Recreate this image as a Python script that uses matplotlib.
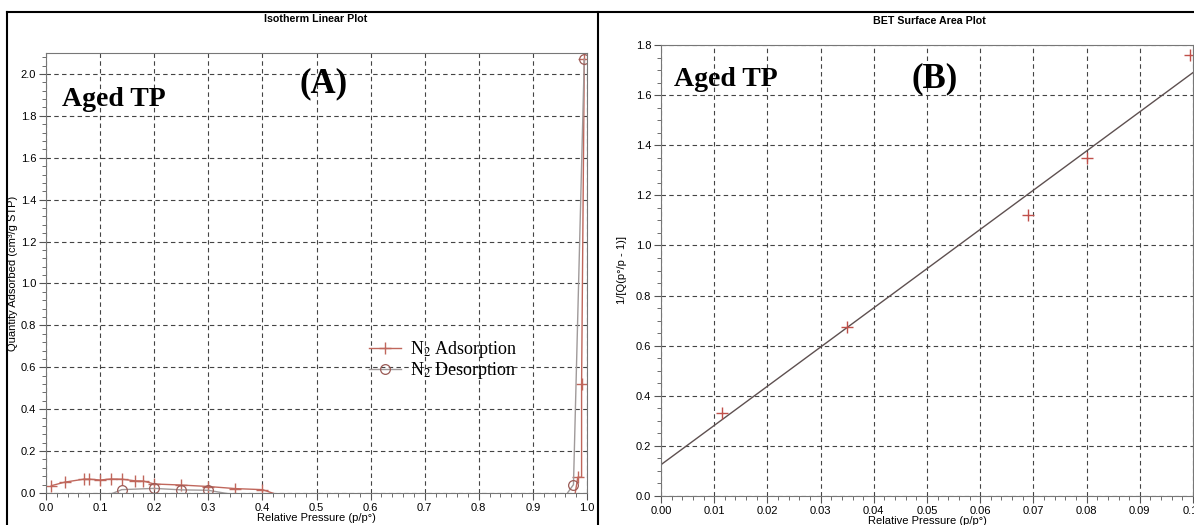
import numpy as np
import matplotlib
matplotlib.use('Agg')
import matplotlib.pyplot as plt
from matplotlib.lines import Line2D
from matplotlib.ticker import MultipleLocator, FormatStrFormatter

# (A) isotherm: adsorption branch (points below 0 are off the axis)
p_ads = [0.01, 0.035, 0.07, 0.08, 0.10, 0.12, 0.14, 0.165, 0.18, 0.20,
         0.25, 0.30, 0.35, 0.40, 0.43, 0.975, 0.983, 0.99, 0.99, 0.995]
q_ads = [0.035, 0.052, 0.066, 0.066, 0.062, 0.067, 0.066, 0.058, 0.057, 0.043,
         0.038, 0.031, 0.021, 0.016, -0.01, -0.05, 0.075, 0.075, 0.52, 2.07]
ads_marks = [0, 1, 2, 3, 4, 5, 6, 7, 8, 9, 10, 11, 12, 13, 16, 18, 19]

# desorption branch
p_des = [0.995, 0.975, 0.95, 0.34, 0.30, 0.25, 0.20, 0.14, 0.12]
q_des = [2.07, 0.04, -0.05, -0.005, 0.013, 0.015, 0.022, 0.016, -0.005]
des_marks = [0, 1, 4, 5, 6, 7]

# (B) BET plot
p_bet = [0.0115, 0.035, 0.069, 0.080, 0.0995]
q_bet = [0.33, 0.675, 1.12, 1.35, 1.76]
fit_p = [0.0, 0.1]
fit_q = [0.125, 1.69]

W, H = 1194, 525
fig = plt.figure(figsize=(W / 100, H / 100), dpi=100)
plt.rcParams['mathtext.fontset'] = 'stix'


def px_axes(l, r, t, b):
    return fig.add_axes([l / W, 1 - b / H, (r - l) / W, (b - t) / H])


def style(ax):
    ax.grid(True, which='major', linestyle=(0, (4, 3)), color='#444444', lw=0.8)
    ax.tick_params(which='both', direction='out', labelsize=8, color='#555555', pad=2)
    ax.tick_params(which='major', length=5)
    ax.tick_params(which='minor', length=3)
    for s in ax.spines.values():
        s.set_color('#777777')
    for lab in ax.get_xticklabels() + ax.get_yticklabels():
        lab.set_family('Liberation Sans')


# ---- panel A
axA = px_axes(46, 587, 53, 493)
axA.plot(p_ads, q_ads, color='#c0675c', lw=1.0, marker='+', ms=8, mew=1.0,
         markevery=ads_marks, label='N$_2$ Adsorption')
axA.plot(p_des, q_des, color='#a09a9a', lw=1.0, marker='o', ms=7, mfc='none',
         mec='#9a5a55', mew=0.9, markevery=des_marks, label='N$_2$ Desorption')
axA.set_xlim(0, 1.0)
axA.set_ylim(0, 2.1)
axA.xaxis.set_major_locator(MultipleLocator(0.1))
axA.xaxis.set_minor_locator(MultipleLocator(0.02))
axA.yaxis.set_major_locator(MultipleLocator(0.2))
axA.yaxis.set_minor_locator(MultipleLocator(0.04))
axA.xaxis.set_major_formatter(FormatStrFormatter('%.1f'))
axA.yaxis.set_major_formatter(FormatStrFormatter('%.1f'))
style(axA)
axA.set_xlabel('Relative Pressure (p/p°)', fontsize=8, family='Liberation Sans', labelpad=0)
axA.set_ylabel('Quantity Adsorbed (cm³/g STP)', fontsize=8, family='Liberation Sans', labelpad=2)
axA.legend(loc='upper left', bbox_to_anchor=(0.58, 0.37), frameon=False,
           prop={'family': 'Liberation Serif', 'size': 13}, handlelength=1.8,
           handletextpad=0.5, labelspacing=0.0, borderpad=0)

# ---- panel B
axB = px_axes(661, 1193, 45, 496)
axB.plot(fit_p, fit_q, color='#5e5050', lw=1.0)
axB.plot(p_bet, q_bet, ls='none', marker='+', ms=8, mew=1.0, color='#c0504a', clip_on=False)
axB.set_xlim(0, 0.1)
axB.set_ylim(0, 1.8)
axB.xaxis.set_major_locator(MultipleLocator(0.01))
axB.xaxis.set_minor_locator(MultipleLocator(0.002))
axB.yaxis.set_major_locator(MultipleLocator(0.2))
axB.yaxis.set_minor_locator(MultipleLocator(0.05))
axB.xaxis.set_major_formatter(FormatStrFormatter('%.2f'))
axB.yaxis.set_major_formatter(FormatStrFormatter('%.1f'))
style(axB)
axB.set_xlabel('Relative Pressure (p/p°)', fontsize=8, family='Liberation Sans', labelpad=0)
axB.set_ylabel('1/[Q(p°/p - 1)]', fontsize=8, family='Liberation Sans', labelpad=6)

# titles and annotations
fig.text(316 / W, 1 - 19 / H, 'Isotherm Linear Plot', ha='center', va='center',
         fontsize=7.7, fontweight='bold', family='Liberation Sans')
fig.text(929 / W, 1 - 21 / H, 'BET Surface Area Plot', ha='center', va='center',
         fontsize=7.7, fontweight='bold', family='Liberation Sans')
serif = dict(family='Liberation Serif', fontweight='bold', va='center')
fig.text(62 / W, 1 - 99 / H, 'Aged TP', fontsize=20, ha='left', **serif)
fig.text(324 / W, 1 - 84 / H, '(A)', fontsize=25, ha='center', **serif)
fig.text(674 / W, 1 - 79 / H, 'Aged TP', fontsize=20, ha='left', **serif)
fig.text(935 / W, 1 - 79 / H, '(B)', fontsize=25, ha='center', **serif)

# frame lines of the original screenshot
fig.add_artist(Line2D([7 / W, 1], [1 - 12 / H, 1 - 12 / H], color='black', lw=1.5))
fig.add_artist(Line2D([7 / W, 7 / W], [0, 1 - 12 / H], color='black', lw=1.5))
fig.add_artist(Line2D([598 / W, 598 / W], [0, 1 - 12 / H], color='black', lw=1.5))

fig.savefig('out.png', dpi=100)
